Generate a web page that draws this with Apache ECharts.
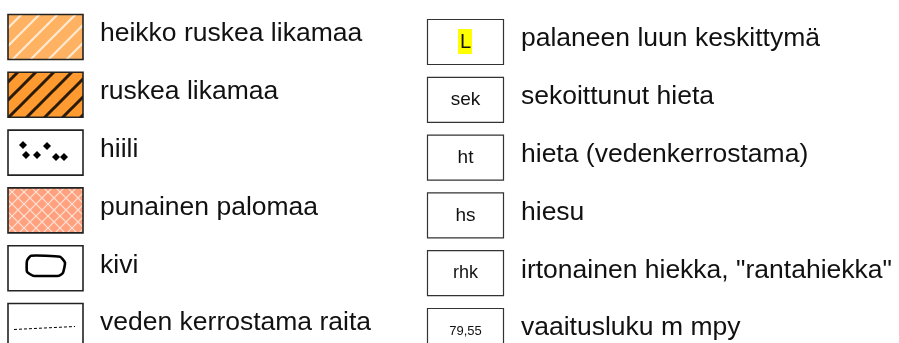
<!DOCTYPE html>
<html><head><meta charset="utf-8">
<script src="https://cdn.jsdelivr.net/npm/echarts@6/dist/echarts.min.js"></script>
<style>html,body{margin:0;padding:0;background:#fff}#c{width:899px;height:343px}</style>
</head><body><div id="c"></div>
<script>
const leftLabels = ['heikko ruskea likamaa','ruskea likamaa','hiili','punainen palomaa','kivi','veden kerrostama raita'];
const leftSymbols = ['lightStripes','darkStripes','coal','redHatch','stone','dashLine'];
const rightCodes = ['L','sek','ht','hs','rhk','79,55'];
const rightLabels = ['palaneen luun keskittymä','sekoittunut hieta','hieta (vedenkerrostama)','hiesu','irtonainen hiekka, "rantahiekka"','vaaitusluku m mpy'];

const FONT = '"Liberation Sans", Arial, sans-serif';

function stripeTile(bg, line, lw, s) {
  const c = document.createElement('canvas');
  c.width = s; c.height = s;
  const g = c.getContext('2d');
  g.fillStyle = bg; g.fillRect(0,0,s,s);
  g.strokeStyle = line; g.lineWidth = lw;
  g.beginPath();
  g.moveTo(0,s); g.lineTo(s,0);
  g.moveTo(-s/2,s/2); g.lineTo(s/2,-s/2);
  g.moveTo(s/2,s*1.5); g.lineTo(s*1.5,s/2);
  g.stroke();
  return c;
}
function hatchTile(bg, line, lw, s) {
  const c = document.createElement('canvas');
  c.width = s; c.height = s;
  const g = c.getContext('2d');
  g.fillStyle = bg; g.fillRect(0,0,s,s);
  g.strokeStyle = line; g.lineWidth = lw;
  g.beginPath();
  g.moveTo(0,s); g.lineTo(s,0);
  g.moveTo(0,0); g.lineTo(s,s);
  g.stroke();
  return c;
}
const patterns = {
  lightStripes: {image: stripeTile('#ffb262','rgba(255,240,222,0.9)',2.2,18), repeat:'repeat'},
  darkStripes: {image: stripeTile('#ff9a30','#2a1a08',3,18), repeat:'repeat'},
  redHatch: {image: hatchTile('#ffa07e','rgba(255,235,225,0.9)',1.2,12), repeat:'repeat'}
};
const codeSize = [20, 19, 19, 19, 18, 13];

const data = [];
leftLabels.forEach((l,i)=>data.push([0,i]));
rightLabels.forEach((l,i)=>data.push([1,i]));

function renderItem(params, api) {
  const col = api.value(0), row = api.value(1);
  const p = api.coord([col,row]);
  const ch = [];
  if (col === 0) {
    const bx = p[0]-37.5, by = p[1]-22.5, bw = 75, bh = 45;
    const kind = leftSymbols[row];
    const fill = patterns[kind] ? patterns[kind] : '#fff';
    ch.push({type:'rect', shape:{x:bx,y:by,width:bw,height:bh}, style:{fill:fill, stroke:'#222', lineWidth:1.6}});
    if (kind === 'coal') {
      [[15,15],[18,25],[29,25],[39,16],[48,27],[56,27]].forEach(d=>{
        const r = 4;
        ch.push({type:'polygon', shape:{points:[[bx+d[0],by+d[1]-r],[bx+d[0]+r,by+d[1]],[bx+d[0],by+d[1]+r],[bx+d[0]-r,by+d[1]]]}, style:{fill:'#000'}});
      });
    } else if (kind === 'stone') {
      const pts = [[19,15],[23,10],[52,11],[57,17],[55,27],[51,30],[25,30],[19,26]].map(q=>[bx+q[0],by+q[1]]);
      ch.push({type:'polygon', shape:{points:pts, smooth:0.15}, style:{fill:'none', stroke:'#000', lineWidth:2.6, lineJoin:'round'}});
    } else if (kind === 'dashLine') {
      ch.push({type:'line', shape:{x1:bx+6,y1:by+26,x2:bx+67,y2:by+23}, style:{stroke:'#000', lineWidth:1, lineDash:[3,2]}});
    }
    ch.push({type:'text', style:{x:p[0]+54.5, y:p[1]-3, text:leftLabels[row], fill:'#111', font:'26.5px '+FONT, textVerticalAlign:'middle', textAlign:'left'}});
  } else {
    const cy = p[1]+5;
    const bx = p[0]-38, by = cy-22.5, bw = 76, bh = 45;
    ch.push({type:'rect', shape:{x:bx,y:by,width:bw,height:bh}, style:{fill:'#fff', stroke:'#333', lineWidth:1.2}});
    if (row === 0) {
      ch.push({type:'rect', shape:{x:p[0]-7.5,y:cy-13,width:14,height:25}, style:{fill:'#ffff00'}});
    }
    ch.push({type:'text', style:{x:p[0], y:cy, text:rightCodes[row], fill:'#111', font:codeSize[row]+'px '+FONT, textVerticalAlign:'middle', textAlign:'center'}});
    ch.push({type:'text', style:{x:p[0]+55.5, y:cy-3, text:rightLabels[row], fill:'#111', font:'26.5px '+FONT, textVerticalAlign:'middle', textAlign:'left'}});
  }
  return {type:'group', children:ch};
}

const chart = echarts.init(document.getElementById('c'), null, {renderer:'canvas'});
chart.setOption({
  animation:false,
  grid:{left:45.5, width:420, top:37, height:289},
  xAxis:{type:'value', min:0, max:1, show:false},
  yAxis:{type:'value', min:0, max:5, inverse:true, show:false},
  series:[{type:'custom', renderItem:renderItem, data:data, clip:false, silent:true}]
});
</script></body></html>
